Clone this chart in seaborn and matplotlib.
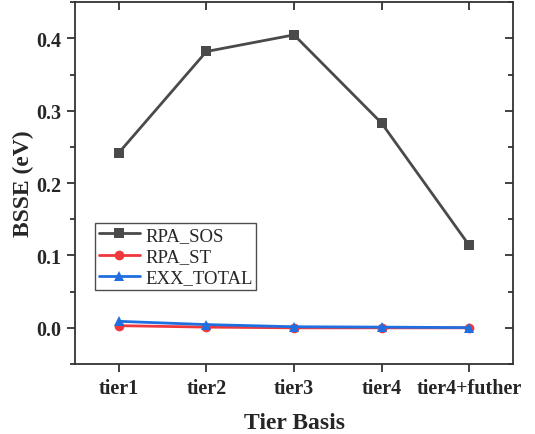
import matplotlib
matplotlib.use("Agg")
import matplotlib.pyplot as plt
from matplotlib.ticker import MultipleLocator, FormatStrFormatter
import seaborn as sns
import pandas as pd

tiers = ["tier1", "tier2", "tier3", "tier4", "tier4+futher"]
rpa_sos = [0.242, 0.382, 0.405, 0.283, 0.114]
rpa_st = [0.003, 0.001, 0.000, 0.000, 0.000]
exx_total = [0.009, 0.0045, 0.0015, 0.001, 0.0003]

series = {"RPA_SOS": rpa_sos, "RPA_ST": rpa_st, "EXX_TOTAL": exx_total}
rows = []
for name, vals in series.items():
    for i, (t, v) in enumerate(zip(tiers, vals)):
        rows.append({"idx": i, "tier": t, "value": v, "series": name})
df = pd.DataFrame(rows)

sns.set_theme(style="white")
plt.rcParams["font.family"] = ["Liberation Serif", "DejaVu Serif"]

fig = plt.figure(figsize=(5.35, 4.35), dpi=100)
ax = fig.add_axes([0.1402, 0.1609, 0.8187, 0.8315])

palette = {"RPA_SOS": "#4a4a4a", "RPA_ST": "#f0383c", "EXX_TOTAL": "#1f6fe0"}
markers = {"RPA_SOS": "s", "RPA_ST": "o", "EXX_TOTAL": "^"}
sns.lineplot(data=df, x="idx", y="value", hue="series", style="series",
             palette=palette, markers=markers, dashes=False, linewidth=2,
             markersize=7, markeredgewidth=0, ax=ax)

ax.set_xlim(-0.5, 4.5)
ax.set_ylim(-0.05, 0.45)
ax.set_xticks(range(len(tiers)))
ax.set_xticklabels(tiers)
ax.yaxis.set_major_locator(MultipleLocator(0.1))
ax.yaxis.set_minor_locator(MultipleLocator(0.05))
ax.yaxis.set_major_formatter(FormatStrFormatter("%.1f"))

for lab in ax.get_xticklabels() + ax.get_yticklabels():
    lab.set_fontweight("bold")
    lab.set_fontsize(14.5)

ax.set_xlabel("Tier Basis", fontsize=17, fontweight="bold", labelpad=10.5)
ax.set_ylabel("BSSE (eV)", fontsize=17, fontweight="bold", labelpad=1.5)

for s in ax.spines.values():
    s.set_visible(True)
    s.set_color("#333333")
    s.set_linewidth(1.3)

ax.tick_params(axis="both", which="major", direction="out", length=6, width=1.3,
               color="#333333", bottom=True, left=True, pad=4)
ax.tick_params(axis="y", which="minor", direction="out", length=3.5, width=1.3,
               color="#333333", left=True)

# inward ticks on the opposite spines
axr = ax.secondary_yaxis("right")
axr.yaxis.set_major_locator(MultipleLocator(0.1))
axr.yaxis.set_minor_locator(MultipleLocator(0.05))
axr.tick_params(which="major", direction="in", length=6, width=1.3, color="#333333", labelright=False)
axr.tick_params(which="minor", direction="in", length=3.5, width=1.3, color="#333333")
axr.set_yticklabels([])
axr.spines["right"].set_visible(False)
axt = ax.secondary_xaxis("top")
axt.set_xticks(range(len(tiers)))
axt.tick_params(direction="in", length=6, width=1.3, color="#333333", labeltop=False)
axt.set_xticklabels([])
axt.spines["top"].set_visible(False)

leg = ax.legend(loc="upper left", bbox_to_anchor=(0.0457, 0.39), fontsize=13.5,
                frameon=True, fancybox=False, edgecolor="#222222",
                handlelength=2.2, handletextpad=0.27, borderpad=0.2,
                labelspacing=0.22, borderaxespad=0)
leg.get_frame().set_linewidth(1.0)

fig.savefig("out.png", dpi=100)
